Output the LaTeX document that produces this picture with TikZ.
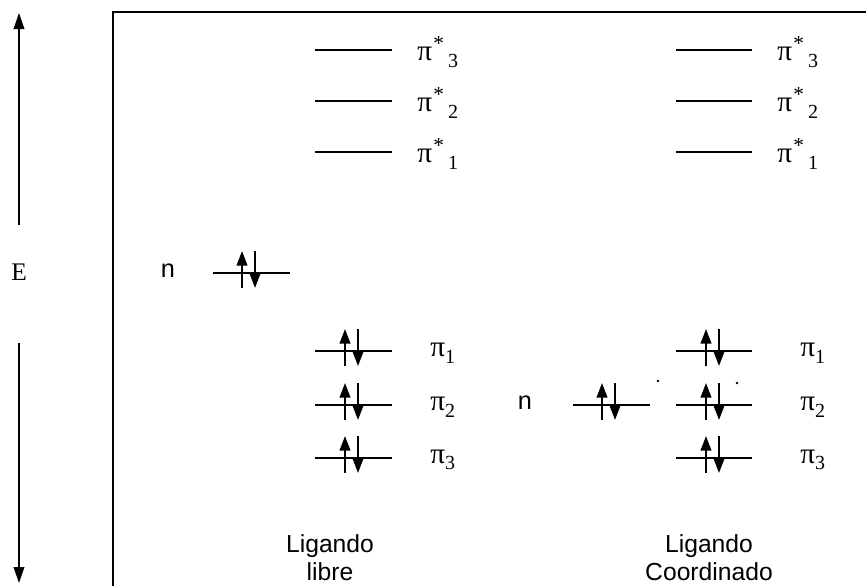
\documentclass[tikz,border=0pt]{standalone}
\usepackage{fontspec}
\setmainfont{Liberation Serif}
\setsansfont{Liberation Sans}
\usetikzlibrary{arrows.meta}
\tikzset{
  level/.style={line width=1.4pt},
  elec/.style={line width=1.5pt,-{Triangle[length=11pt,width=8pt]}},
  axis/.style={line width=1.1pt,-{Triangle[length=12pt,width=8pt]}},
  orblabel/.style={anchor=west,font=\fontsize{22}{24}\selectfont,inner sep=0pt},
  sanslabel/.style={font=\sffamily\fontsize{19}{21}\selectfont,inner sep=0pt},
  caption/.style={font=\sffamily\fontsize{18.5}{21}\selectfont,align=center,inner sep=0pt},
}
\newcommand{\pairat}[2]{%
  \draw[elec] (#1-8,#2+15) -- (#1-8,#2-22);
  \draw[elec] (#1+5,#2-22) -- (#1+5,#2+15);
}
\newcommand{\pistar}[1]{π\hspace{1pt}\raisebox{8pt}{\fontsize{16}{16}\selectfont *}\hspace{3pt}\raisebox{-5pt}{\fontsize{15}{15}\selectfont #1}}
\newcommand{\pisub}[1]{π\raisebox{-5pt}{\fontsize{15}{15}\selectfont #1}}
\begin{document}
\begin{tikzpicture}[x=0.75pt,y=-0.75pt]
\useasboundingbox (0,0) rectangle (866,586);
% energy axis
\node[font=\fontsize{19}{20}\selectfont,inner sep=0pt] (E) at (19,272) {E};
\coordinate (Etop) at (19,13);
\coordinate (Ebot) at (19,583);
\draw[axis] (19,225) -- (Etop);
\draw[axis] (19,343) -- (Ebot);
% frame
\draw[line width=1.3pt] (113,586) -- (113,12) -- (866,12);

% ---- left column: free ligand ----
\foreach \y/\i in {50/3,101/2,152/1}{
  \draw[level] (315,\y) -- (392,\y);
  \node[orblabel] (La\i) at (417,\y+2) {\pistar{\i}};
}
\foreach \y/\i in {351/1,405/2,458/3}{
  \draw[level] (315,\y) -- (392,\y);
  \pairat{353}{\y}
  \node[orblabel] (Lb\i) at (430,\y+2) {\pisub{\i}};
}
\node[sanslabel] (nL) at (168,271) {n};
\draw[level] (213,273) -- (290,273);
\pairat{250}{273}
\node[caption] (capL) at (330,558) {Ligando\\libre};

% ---- right column: coordinated ligand ----
\foreach \y/\i in {50/3,101/2,152/1}{
  \draw[level] (676,\y) -- (752,\y);
  \node[orblabel] (Ra\i) at (777,\y+2) {\pistar{\i}};
}
\foreach \y/\i in {351/1,405/2,458/3}{
  \draw[level] (676,\y) -- (752,\y);
  \pairat{714}{\y}
  \node[orblabel] (Rb\i) at (800,\y+2) {\pisub{\i}};
}
\node[sanslabel] (nR) at (525,403) {n};
\draw[level] (573,405) -- (650,405);
\pairat{610}{405}
\fill (658,381) circle (1.3);
\fill (737,383) circle (1.3);
\node[caption] (capR) at (709,558) {Ligando\\Coordinado};
\end{tikzpicture}
\end{document}
